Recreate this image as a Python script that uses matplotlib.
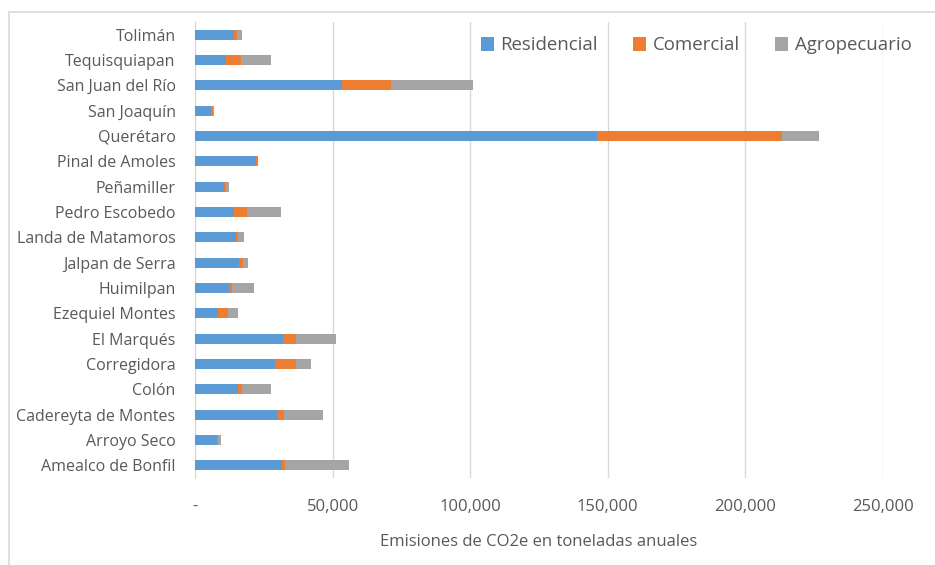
import matplotlib
matplotlib.use("Agg")
import matplotlib.pyplot as plt
from matplotlib.patches import Rectangle
from matplotlib.ticker import FuncFormatter
import numpy as np

plt.rcParams['font.family'] = ['Open Sans', 'DejaVu Sans']

municipios = ["Amealco de Bonfil", "Arroyo Seco", "Cadereyta de Montes", "Colón",
              "Corregidora", "El Marqués", "Ezequiel Montes", "Huimilpan",
              "Jalpan de Serra", "Landa de Matamoros", "Pedro Escobedo", "Peñamiller",
              "Pinal de Amoles", "Querétaro", "San Joaquín", "San Juan del Río",
              "Tequisquiapan", "Tolimán"]
residencial = [31500, 8100, 30000, 15600, 29100, 31900, 8500, 12400,
               16100, 15000, 14200, 10400, 22000, 146200, 5900, 53300, 11400, 14300]
comercial = [1300, 200, 2200, 1300, 7500, 4700, 3400, 1000,
             1300, 500, 4700, 700, 800, 67000, 600, 18000, 5200, 1000]
agropecuario = [23100, 1300, 14400, 10700, 5500, 14800, 3600, 8200,
                1800, 2400, 12500, 1200, 200, 13600, 300, 29800, 11000, 1700]

series = [("Residencial", residencial, "#5B9BD5"),
          ("Comercial", comercial, "#ED7D31"),
          ("Agropecuario", agropecuario, "#A5A5A5")]

text_color = "#595959"
grid_color = "#D9D9D9"

fig = plt.figure(figsize=(9.35, 5.65), dpi=100)
ax = fig.add_axes([195 / 935, 1 - 478 / 565, (883 - 195) / 935, (478 - 22) / 565])

y = np.arange(len(municipios))
left = np.zeros(len(municipios))
for name, vals, color in series:
    vals = np.array(vals, dtype=float)
    ax.barh(y, vals, left=left, height=0.4, color=color, label=name, zorder=3)
    left += vals

ax.set_xlim(0, 250000)
ax.set_ylim(-0.5, len(municipios) - 0.5)
ax.set_xticks(np.arange(0, 250001, 50000))
ax.xaxis.set_major_formatter(FuncFormatter(lambda v, p: "-" if v == 0 else f"{v:,.0f}"))
ax.set_yticks(y)
ax.set_yticklabels(municipios)

ax.grid(axis="x", color=grid_color, linewidth=1, zorder=0)
for s in ["top", "right", "bottom"]:
    ax.spines[s].set_visible(False)
ax.spines["left"].set_color(grid_color)
ax.tick_params(axis="both", length=0, colors=text_color)
ax.tick_params(axis="x", pad=15, labelsize=12)
ax.tick_params(axis="y", pad=14, labelsize=11.5)

ax.set_xlabel("Emisiones de CO2e en toneladas anuales", color=text_color, fontsize=12, labelpad=14)

leg = ax.legend(loc="upper right", bbox_to_anchor=(1.0656, 1.005), ncol=3, frameon=False,
                fontsize=13.4, handlelength=0.72, handleheight=0.72, handletextpad=0.35,
                columnspacing=1.87, labelcolor=text_color)

# chart border
fig.patches.append(Rectangle((9 / 935, -0.1), 1.2, 1 - 12 / 565 + 0.1,
                             transform=fig.transFigure, fill=False,
                             edgecolor=grid_color, linewidth=1.2))

fig.savefig("out.png", dpi=100)
